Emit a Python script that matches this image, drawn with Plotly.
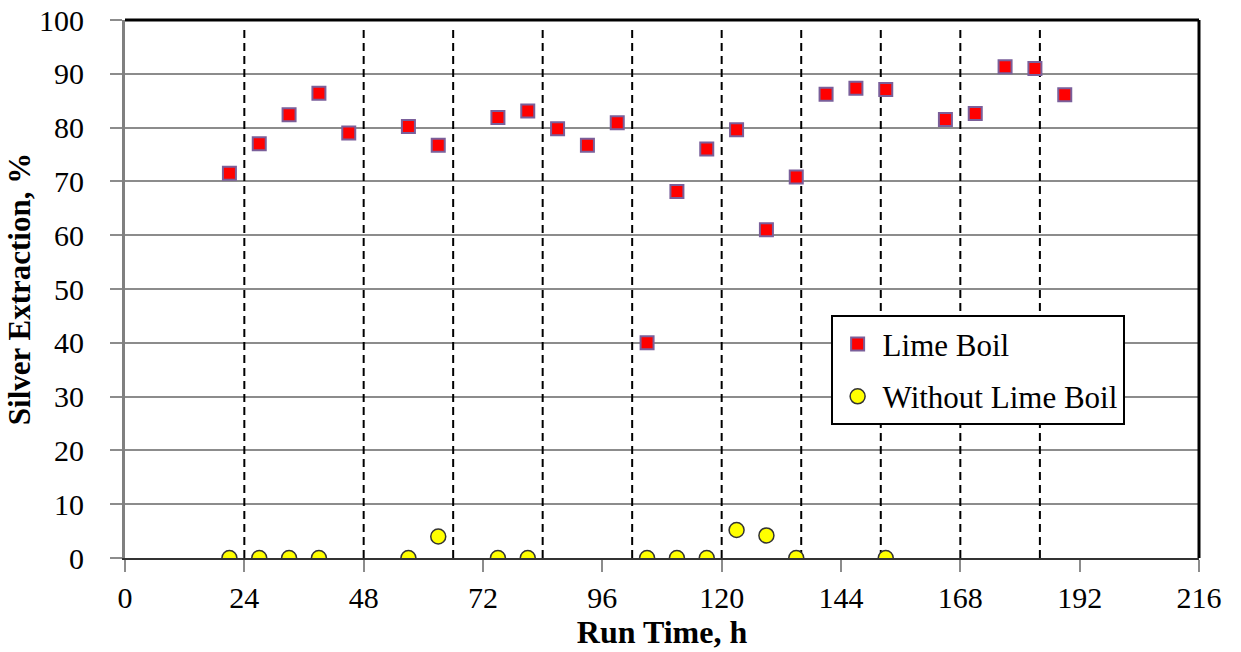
import plotly.graph_objects as go

# Lime Boil series
lime_time = [21, 27, 33, 39, 45, 57, 63, 75, 81, 87, 93, 99, 105, 111, 117, 123, 129, 135,
             141, 147, 153, 165, 171, 177, 183, 189]
lime_ext = [71.5, 77.0, 82.4, 86.4, 79.0, 80.2, 76.7, 81.9, 83.1, 79.8, 76.7, 80.9, 40.0,
            68.1, 76.0, 79.6, 61.0, 70.8, 86.2, 87.3, 87.1, 81.5, 82.6, 91.3, 91.0, 86.1]

# Without Lime Boil series
nolime_time = [21, 27, 33, 39, 57, 63, 75, 81, 105, 111, 117, 123, 129, 135, 153]
nolime_ext = [0, 0, 0, 0, 0, 4.0, 0, 0, 0, 0, 0, 5.2, 4.2, 0, 0]

# Vertical dashed marker lines (run time, h)
dash_times = [24, 48, 66, 84, 102, 120, 136, 152, 168, 184]

x_ticks = [0, 24, 48, 72, 96, 120, 144, 168, 192, 216]
y_ticks = [0, 10, 20, 30, 40, 50, 60, 70, 80, 90, 100]

FONT = "Liberation Serif"

fig = go.Figure()
fig.add_trace(go.Scatter(
    x=lime_time, y=lime_ext, mode="markers", name="Lime Boil", legendgroup="a",
    marker=dict(symbol="square", size=13, color="#ff0000",
                line=dict(color="#7a5f9a", width=2)),
))
fig.add_trace(go.Scatter(
    x=nolime_time, y=nolime_ext, mode="markers", name="Without Lime Boil", legendgroup="b",
    marker=dict(symbol="circle", size=15, color="#ffff00",
                line=dict(color="#333333", width=1.5)),
))

shapes = []
for t in dash_times:
    shapes.append(dict(type="line", xref="x", yref="y", x0=t, x1=t, y0=0, y1=98.6,
                       line=dict(color="black", width=2, dash="8px,5px"), layer="between"))
shapes.append(dict(type="line", xref="paper", yref="paper", x0=0, x1=1, y0=1, y1=1,
                   line=dict(color="black", width=3), layer="above"))
shapes.append(dict(type="line", xref="paper", yref="paper", x0=1, x1=1, y0=0, y1=1,
                   line=dict(color="black", width=3), layer="above"))

fig.update_layout(
    width=1241, height=652,
    margin=dict(l=125, r=42, t=20, b=94),
    paper_bgcolor="white", plot_bgcolor="white",
    font=dict(family=FONT, size=30, color="black"),
    shapes=shapes,
    showlegend=True,
    legend=dict(x=0.657, y=0.451, xanchor="left", yanchor="top",
                bgcolor="white", bordercolor="black", borderwidth=2,
                font=dict(family=FONT, size=31), tracegroupgap=9,
                itemsizing="trace", itemwidth=40, entrywidth=305, entrywidthmode="pixels"),
    xaxis=dict(range=[0, 216], tickvals=x_ticks, ticktext=[str(v) for v in x_ticks],
               showgrid=False, zeroline=False, showline=True, linecolor="#333333",
               linewidth=2, ticks="outside", ticklen=12, tickwidth=2, tickcolor="#8c8c8c",
               ticklabelstandoff=0, automargin=False,
               tickfont=dict(family=FONT, size=30),
               title=dict(text="<b>Run Time, h</b>", font=dict(family=FONT, size=32),
                          standoff=2)),
    yaxis=dict(range=[0, 100], tickvals=y_ticks, ticktext=[str(v) for v in y_ticks],
               showgrid=True, gridcolor="#8c8c8c", gridwidth=2, zeroline=False,
               showline=True, linecolor="#808080", linewidth=3,
               ticks="outside", ticklen=12, tickwidth=2, tickcolor="#8c8c8c",
               ticklabelstandoff=20, automargin=False,
               tickfont=dict(family=FONT, size=30),
               title=dict(text="<b>Silver Extraction, %</b>", font=dict(family=FONT, size=31),
                          standoff=0)),
)

fig.write_html("out.html")
